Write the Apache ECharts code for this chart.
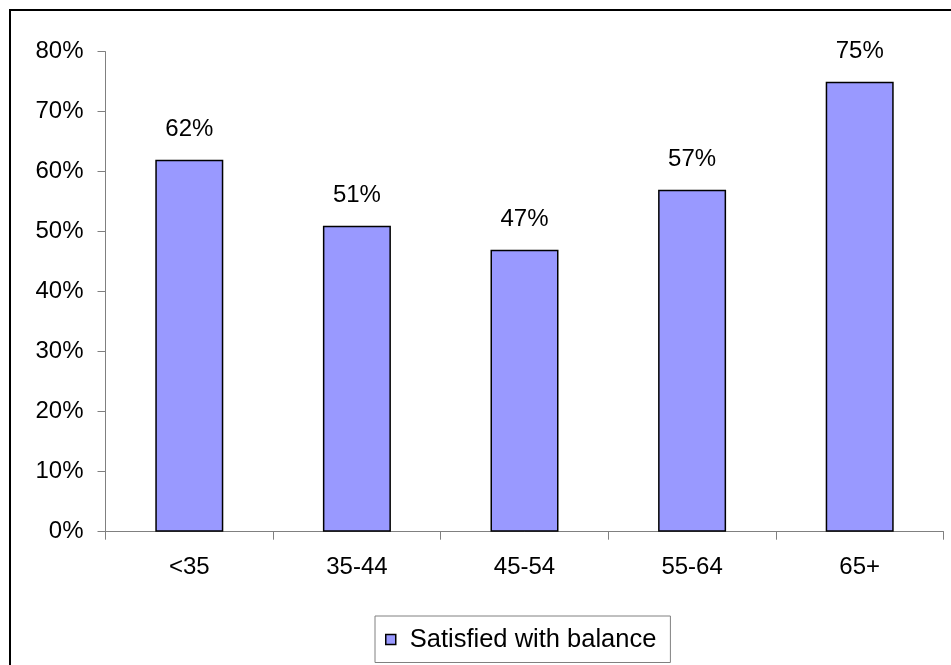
<!DOCTYPE html>
<html>
<head>
<meta charset="utf-8">
<script src="https://cdn.jsdelivr.net/npm/echarts@6/dist/echarts.min.js"></script>
<style>
  html, body { margin: 0; padding: 0; background: #fff; }
  #chart { width: 951px; height: 665px; }
</style>
</head>
<body>
<div id="chart"></div>
<script>
const categories = ['<35', '35-44', '45-54', '55-64', '65+'];
const satisfiedValues = [62, 51, 47, 57, 75];
const seriesName = 'Satisfied with balance';
const yTickMax = 80;
const yTickStep = 10;

const FONT = '"Liberation Sans", Arial, sans-serif';
const FS = 24;
const chart = echarts.init(document.getElementById('chart'), null, { renderer: 'canvas' });
chart.setOption({
  animation: false,
  backgroundColor: '#ffffff',
  textStyle: { fontFamily: FONT },
  graphic: [{
    type: 'rect',
    shape: { x: 10, y: 10, width: 1000, height: 1000 },
    style: { fill: 'none', stroke: '#000', lineWidth: 2 },
    silent: true
  }],
  grid: { left: 105.5, right: 7.5, top: 51.7, bottom: 133.3 },
  legend: {
    left: 375, top: 616,
    padding: [10.5, 14, 10, 10],
    borderColor: '#808080', borderWidth: 1,
    itemWidth: 10, itemHeight: 10,
    icon: 'rect',
    itemStyle: { borderColor: '#000', borderWidth: 1.5 },
    textStyle: { fontFamily: FONT, fontSize: 25.5, color: '#000', padding: [0, 0, 0, 9] },
    data: [seriesName]
  },
  xAxis: {
    type: 'category',
    data: categories,
    axisLine: { lineStyle: { color: '#808080', width: 1 } },
    axisTick: { show: true, length: 8, lineStyle: { color: '#808080' } },
    axisLabel: { fontFamily: FONT, fontSize: FS, color: '#000', margin: 24 }
  },
  yAxis: {
    type: 'value',
    min: 0, max: yTickMax, interval: yTickStep,
    axisLine: { show: true, lineStyle: { color: '#808080', width: 1 } },
    axisTick: { show: true, length: 8, lineStyle: { color: '#808080' } },
    splitLine: { show: false },
    axisLabel: { fontFamily: FONT, fontSize: FS, color: '#000', margin: 22, formatter: '{value}%' }
  },
  series: [{
    name: seriesName,
    type: 'bar',
    data: satisfiedValues,
    barWidth: 68,
    itemStyle: { color: '#9999ff', borderColor: '#000', borderWidth: 1.5 },
    label: {
      show: true, position: 'top', distance: 18,
      fontFamily: FONT, fontSize: FS, color: '#000',
      formatter: '{c}%'
    }
  }]
});
</script>
</body>
</html>
